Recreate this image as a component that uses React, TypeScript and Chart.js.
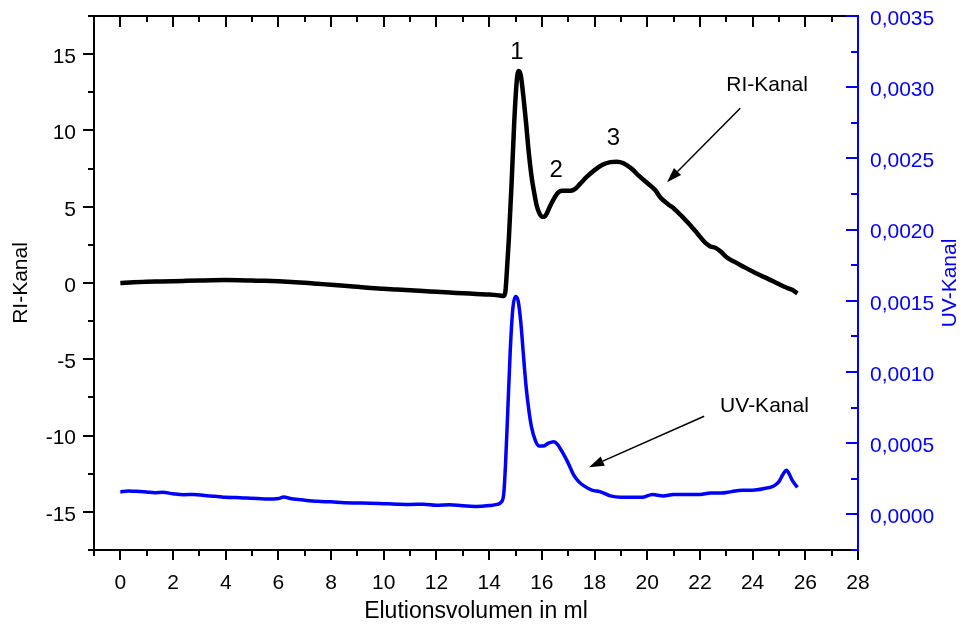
import React, { useEffect, useRef } from 'react';
import { Chart, registerables } from 'chart.js';

Chart.register(...registerables);

// ---------- data ----------
const RI_X = [
  0.0, 0.5, 1.0, 1.5, 2.0, 2.5, 3.0, 3.5, 4.0, 4.5, 5.0, 5.5, 6.0, 6.5, 7.0, 7.5, 8.0, 8.5, 9.0, 9.5,
  10.0, 10.5, 11.0, 11.5, 12.0, 12.5, 13.0, 13.5, 14.0, 14.4, 14.55, 14.62, 14.68, 14.75, 14.85, 14.95,
  15.05, 15.12, 15.2, 15.3, 15.4, 15.5, 15.6, 15.7, 15.8, 15.9, 16.0, 16.1, 16.2, 16.3, 16.45, 16.6,
  16.75, 16.9, 17.1, 17.25, 17.45, 17.7, 18.0, 18.3, 18.6, 18.85, 19.1, 19.4, 19.7, 20.0, 20.3, 20.5,
  20.8, 21.0, 21.3, 21.6, 21.9, 22.2, 22.4, 22.6, 22.8, 23.0, 23.3, 23.6, 24.0, 24.4, 24.8, 25.2, 25.5, 25.7,
];
const RI_Y = [
  0.0, 0.05, 0.08, 0.1, 0.12, 0.14, 0.16, 0.18, 0.19, 0.18, 0.16, 0.14, 0.11, 0.07, 0.02, -0.05, -0.12, -0.18, -0.25, -0.32,
  -0.38, -0.42, -0.47, -0.52, -0.58, -0.63, -0.67, -0.72, -0.76, -0.82, -0.85, -0.5, 1.0, 3.0, 6.5, 10.5,
  13.3, 13.9, 13.6, 12.2, 10.5, 8.6, 7.1, 6.0, 5.1, 4.6, 4.35, 4.35, 4.6, 5.0, 5.5, 5.9,
  6.05, 6.05, 6.05, 6.15, 6.5, 6.95, 7.4, 7.75, 7.92, 7.95, 7.85, 7.5, 7.0, 6.55, 6.1, 5.6,
  5.15, 4.9, 4.4, 3.85, 3.25, 2.65, 2.4, 2.3, 2.05, 1.7, 1.4, 1.12, 0.75, 0.42, 0.1, -0.25, -0.45, -0.68,
];

const UV_X = [
  0.0, 0.3, 0.6, 1.0, 1.3, 1.6, 2.0, 2.4, 2.8, 3.2, 3.6, 4.0, 4.4, 4.8, 5.2, 5.6, 6.0, 6.2, 6.5, 7.0,
  7.5, 8.0, 8.5, 9.0, 9.5, 10.0, 10.5, 11.0, 11.5, 12.0, 12.5, 13.0, 13.5, 14.0, 14.3, 14.45, 14.55,
  14.62, 14.7, 14.8, 14.9, 15.0, 15.1, 15.2, 15.3, 15.4, 15.5, 15.6, 15.75, 15.9, 16.05, 16.25, 16.45,
  16.6, 16.8, 17.0, 17.2, 17.4, 17.6, 17.9, 18.2, 18.6, 19.0, 19.4, 19.8, 20.2, 20.6, 21.0, 21.5, 22.0,
  22.4, 22.8, 23.2, 23.6, 24.0, 24.4, 24.8, 25.0, 25.15, 25.28, 25.4, 25.5, 25.7,
];
const UV_Y = [
  0.000158, 0.000165, 0.000162, 0.000158, 0.000152, 0.000155, 0.000145, 0.000138, 0.00014, 0.000132,
  0.000128, 0.00012, 0.000118, 0.000115, 0.000112, 0.000108, 0.000112, 0.000122, 0.00011, 0.0001,
  0.000092, 0.000088, 0.000082, 0.00008, 0.000078, 0.000075, 0.000072, 0.00007, 0.000072, 0.000065,
  0.000068, 0.00006, 0.000056, 0.000062, 0.00007, 0.000085, 0.00014,
  0.00035, 0.0007, 0.00115, 0.00145, 0.00153, 0.0015, 0.00135, 0.00112, 0.0009, 0.00074, 0.00062,
  0.00052, 0.00048, 0.00048, 0.0005, 0.00051,
  0.00049, 0.00043, 0.00036, 0.00028, 0.00023, 0.0002, 0.00017, 0.00016, 0.00013, 0.00012, 0.00012,
  0.00012, 0.00014, 0.00013, 0.00014, 0.00014, 0.00014,
  0.00015, 0.00015, 0.00016, 0.00017, 0.00017, 0.00018, 0.0002, 0.00023, 0.00028, 0.00031, 0.00028,
  0.00024, 0.00019,
];

const X_TICKS = [0, 2, 4, 6, 8, 10, 12, 14, 16, 18, 20, 22, 24, 26, 28];
const X_MINOR = [-1, 1, 3, 5, 7, 9, 11, 13, 15, 17, 19, 21, 23, 25, 27];
const RI_TICKS = [-15, -10, -5, 0, 5, 10, 15];
const RI_MINOR = [-17.5, -12.5, -7.5, -2.5, 2.5, 7.5, 12.5, 17.5];
const UV_TICKS = [0, 0.0005, 0.001, 0.0015, 0.002, 0.0025, 0.003, 0.0035];
const UV_MINOR = [-0.00025, 0.00025, 0.00075, 0.00125, 0.00175, 0.00225, 0.00275, 0.00325];

const X_TITLE = 'Elutionsvolumen in ml';
const RI_TITLE = 'RI-Kanal';
const UV_TITLE = 'UV-Kanal';

// annotations in data units (x, RI-axis value)
const PEAK_LABELS = ['1', '2', '3'];
const PEAK_LABEL_X = [15.05, 16.54, 18.72];
const PEAK_LABEL_Y = [15.1, 7.4, 9.45];
const NOTE_TEXT = ['RI-Kanal', 'UV-Kanal'];
const NOTE_X = [24.55, 24.45];
const NOTE_Y = [12.95, -8.05];
const ARROW_FROM_X = [23.53, 22.16];
const ARROW_FROM_Y = [11.45, -8.73];
const ARROW_TO_X = [20.75, 17.79];
const ARROW_TO_Y = [6.61, -12.07];

const FONT = '"Liberation Sans", Arial, Helvetica, sans-serif';
const BLUE = '#0000ff';

const axesPlugin = {
  id: 'customAxes',
  afterDraw(chart: any) {
    const ctx = chart.ctx as CanvasRenderingContext2D;
    const { left, right, top, bottom } = chart.chartArea;
    const sx = chart.scales.x;
    const sy = chart.scales.y;
    const sy2 = chart.scales.y2;
    ctx.save();

    // black frame: top, left, bottom
    ctx.strokeStyle = '#000';
    ctx.lineWidth = 2;
    ctx.beginPath();
    ctx.moveTo(left - 1, top);
    ctx.lineTo(right, top);
    ctx.moveTo(left, top);
    ctx.lineTo(left, bottom);
    ctx.moveTo(left - 1, bottom);
    ctx.lineTo(right + 1, bottom);
    ctx.stroke();

    // x ticks
    ctx.beginPath();
    X_TICKS.forEach((v) => {
      const p = Math.round(sx.getPixelForValue(v));
      ctx.moveTo(p, bottom);
      ctx.lineTo(p, bottom + 10);
      ctx.moveTo(p, top);
      ctx.lineTo(p, top + 11);
    });
    X_MINOR.forEach((v) => {
      const p = Math.round(sx.getPixelForValue(v));
      ctx.moveTo(p, bottom);
      ctx.lineTo(p, bottom + 6);
      ctx.moveTo(p, top);
      ctx.lineTo(p, top + 6);
    });
    // RI ticks (outward, left)
    RI_TICKS.forEach((v) => {
      const p = Math.round(sy.getPixelForValue(v));
      ctx.moveTo(left, p);
      ctx.lineTo(left - 11, p);
    });
    RI_MINOR.forEach((v) => {
      const p = Math.round(sy.getPixelForValue(v));
      ctx.moveTo(left, p);
      ctx.lineTo(left - 6, p);
    });
    ctx.stroke();

    // blue right axis
    ctx.strokeStyle = BLUE;
    ctx.beginPath();
    ctx.moveTo(right - 11, top);
    ctx.lineTo(right, top);
    ctx.lineTo(right, bottom + 1);
    UV_TICKS.forEach((v) => {
      const p = Math.round(sy2.getPixelForValue(v));
      ctx.moveTo(right, p);
      ctx.lineTo(right - 12, p);
    });
    UV_MINOR.forEach((v) => {
      const p = Math.round(sy2.getPixelForValue(v));
      ctx.moveTo(right, p);
      ctx.lineTo(right - 7, p);
    });
    ctx.stroke();

    // axis titles
    ctx.textAlign = 'center';
    ctx.textBaseline = 'middle';
    ctx.fillStyle = '#000';
    ctx.font = `23px ${FONT}`;
    ctx.fillText(X_TITLE, (left + right) / 2, 612);
    ctx.font = `21px ${FONT}`;
    ctx.save();
    ctx.translate(21, (top + bottom) / 2);
    ctx.rotate(-Math.PI / 2);
    ctx.fillText(RI_TITLE, 0, 0);
    ctx.restore();
    ctx.save();
    ctx.fillStyle = BLUE;
    ctx.translate(950, (top + bottom) / 2);
    ctx.rotate(-Math.PI / 2);
    ctx.fillText(UV_TITLE, 0, 0);
    ctx.restore();

    // peak labels
    ctx.fillStyle = '#000';
    ctx.font = `24px ${FONT}`;
    PEAK_LABELS.forEach((t, i) => {
      ctx.fillText(t, sx.getPixelForValue(PEAK_LABEL_X[i]), sy.getPixelForValue(PEAK_LABEL_Y[i]));
    });
    // notes
    ctx.font = `21px ${FONT}`;
    NOTE_TEXT.forEach((t, i) => {
      ctx.fillText(t, sx.getPixelForValue(NOTE_X[i]), sy.getPixelForValue(NOTE_Y[i]));
    });
    // arrows
    ctx.strokeStyle = '#000';
    ctx.lineWidth = 1.5;
    NOTE_TEXT.forEach((_, i) => {
      const x1 = sx.getPixelForValue(ARROW_FROM_X[i]);
      const y1 = sy.getPixelForValue(ARROW_FROM_Y[i]);
      const x2 = sx.getPixelForValue(ARROW_TO_X[i]);
      const y2 = sy.getPixelForValue(ARROW_TO_Y[i]);
      const ang = Math.atan2(y2 - y1, x2 - x1);
      const hl = 15;
      const hw = 5;
      const bx = x2 - hl * Math.cos(ang);
      const by = y2 - hl * Math.sin(ang);
      ctx.beginPath();
      ctx.moveTo(x1, y1);
      ctx.lineTo(bx, by);
      ctx.stroke();
      ctx.beginPath();
      ctx.moveTo(x2, y2);
      ctx.lineTo(bx + hw * Math.sin(ang), by - hw * Math.cos(ang));
      ctx.lineTo(bx - hw * Math.sin(ang), by + hw * Math.cos(ang));
      ctx.closePath();
      ctx.fill();
    });

    ctx.restore();
  },
};

export default function App() {
  const ref = useRef<HTMLCanvasElement | null>(null);

  useEffect(() => {
    if (!ref.current) return;
    const riData = RI_X.map((x, i) => ({ x, y: RI_Y[i] }));
    const uvData = UV_X.map((x, i) => ({ x, y: UV_Y[i] }));
    const tickFont = { family: FONT, size: 21 };
    const zeroPad = (s: any) => {
      s.paddingTop = 0;
      s.paddingBottom = 0;
      s.paddingLeft = 0;
      s.paddingRight = 0;
    };
    const chart = new Chart(ref.current, {
      type: 'line',
      data: {
        datasets: [
          {
            label: RI_TITLE,
            data: riData,
            yAxisID: 'y',
            borderColor: '#000',
            borderWidth: 4.5,
            pointRadius: 0,
            cubicInterpolationMode: 'monotone',
            fill: false,
          },
          {
            label: UV_TITLE,
            data: uvData,
            yAxisID: 'y2',
            borderColor: BLUE,
            borderWidth: 3.5,
            pointRadius: 0,
            cubicInterpolationMode: 'monotone',
            fill: false,
          },
        ],
      },
      options: {
        responsive: true,
        maintainAspectRatio: false,
        animation: false,
        layout: { padding: { top: 16, left: 0, right: 0, bottom: 0 } },
        plugins: { legend: { display: false }, tooltip: { enabled: false } },
        events: [],
        scales: {
          x: {
            type: 'linear',
            position: 'bottom',
            min: -1,
            max: 28,
            grid: { display: false, drawTicks: false },
            border: { display: false },
            afterBuildTicks: (s: any) => {
              s.ticks = X_TICKS.map((v) => ({ value: v }));
            },
            afterFit: (s: any) => {
              s.height = 78;
              zeroPad(s);
            },
            ticks: {
              color: '#000',
              font: tickFont,
              padding: 21,
              maxRotation: 0,
              autoSkip: false,
              callback: (v: any) => String(v),
            },
          },
          y: {
            type: 'linear',
            position: 'left',
            min: -17.5,
            max: 17.5,
            grid: { display: false, drawTicks: false },
            border: { display: false },
            afterBuildTicks: (s: any) => {
              s.ticks = RI_TICKS.map((v) => ({ value: v }));
            },
            afterFit: (s: any) => {
              s.width = 94;
              zeroPad(s);
            },
            ticks: {
              color: '#000',
              font: tickFont,
              padding: 18,
              labelOffset: 3,
              autoSkip: false,
              callback: (v: any) => String(v),
            },
          },
          y2: {
            type: 'linear',
            position: 'right',
            min: -0.00025,
            max: 0.0035,
            grid: { display: false, drawTicks: false },
            border: { display: false },
            afterBuildTicks: (s: any) => {
              s.ticks = UV_TICKS.map((v) => ({ value: v }));
            },
            afterFit: (s: any) => {
              s.width = 110;
              zeroPad(s);
            },
            ticks: {
              color: BLUE,
              font: tickFont,
              padding: 12,
              labelOffset: 3,
              autoSkip: false,
              callback: (v: any) => Number(v).toFixed(4).replace('.', ','),
            },
          },
        },
      },
      plugins: [axesPlugin],
    } as any);
    return () => chart.destroy();
  }, []);

  return (
    <div style={{ position: 'absolute', left: 0, top: 0, width: 968, height: 628, background: '#fff' }}>
      <canvas ref={ref} />
    </div>
  );
}
